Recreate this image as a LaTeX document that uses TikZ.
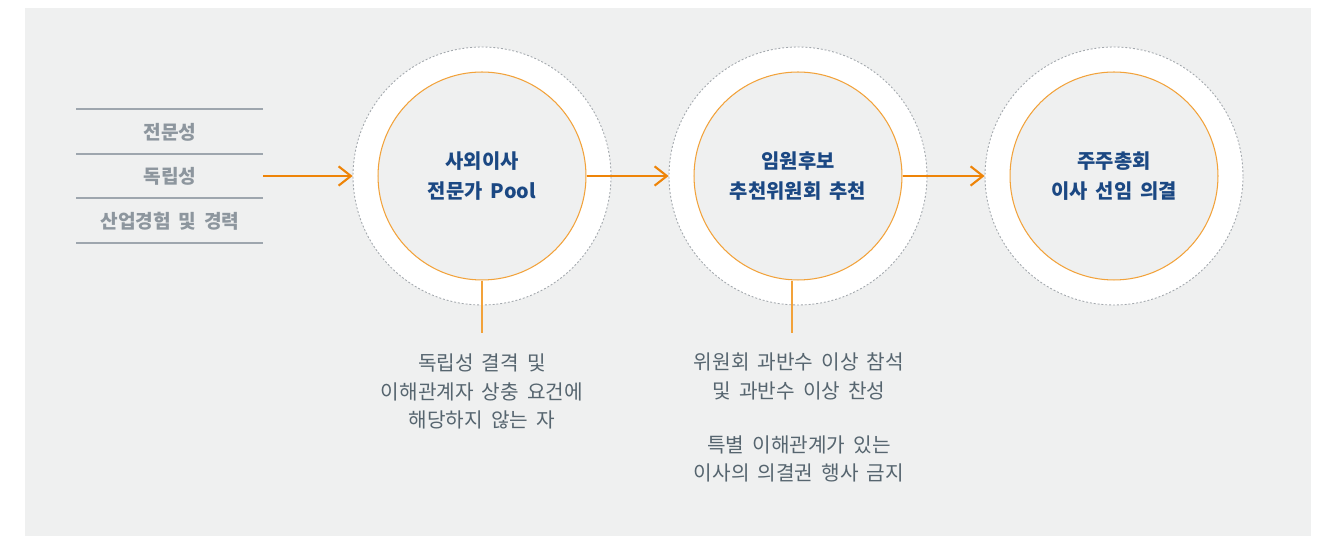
\documentclass[tikz,border=0pt]{standalone}
\usepackage{fontspec}
\setmainfont[WordSpace=1.8]{Noto Sans CJK KR}
\usepackage{tikz}
\usetikzlibrary{arrows.meta, positioning}
\usepackage{xcolor}
\definecolor{panelgrey}{HTML}{EFF0F0}
\definecolor{flowor}{HTML}{EE8408}
\definecolor{ringor}{HTML}{F2A23A}
\definecolor{titleblue}{HTML}{1B4883}
\definecolor{listgrey}{HTML}{8D969E}
\definecolor{rulegrey}{HTML}{9EA6AE}
\definecolor{notegrey}{HTML}{56656F}
\definecolor{dotgrey}{HTML}{A3A8AD}
\tikzset{%
	outer ring/.style={
		circle,
		draw=dotgrey,
		fill=white,
		line width=0.5pt,
		dash pattern=on 1.1pt off 1.1pt,
		minimum size=5.16cm
	},
	inner ring/.style={
		circle,
		draw=ringor,
		fill=panelgrey,
		line width=0.6pt,
		minimum size=4.16cm,
		align=center,
		text=titleblue,
		font=\fontsize{11.3}{17}\selectfont\bfseries
	},
	list item/.style={
		text=listgrey,
		font=\fontsize{10.9}{12}\selectfont\bfseries
	},
	list rule/.style={
		draw=rulegrey,
		line width=0.8pt
	},
	note/.style={
		align=center,
		text=notegrey,
		font=\fontsize{11.5}{16}\selectfont
	},
	flow arrow/.style={
		draw=flowor,
		line width=1.2pt,
		-{Straight Barb[length=7pt,width=11pt,line width=1.2pt]}
	},
	tick line/.style={
		draw=ringor,
		line width=0.8pt
	},
}

\begin{document}
\begin{tikzpicture}[x=0.02cm, y=-0.02cm]
	% Panel
	\useasboundingbox (0,0) rectangle (1326,536);
	\fill[panelgrey] (25,8) rectangle (1311,536);

	% Criteria list
	\draw[list rule] (76,109) -- (263,109);
	\draw[list rule] (76,154) -- (263,154);
	\draw[list rule] (76,198) -- (263,198);
	\draw[list rule] (76,243) -- (263,243);
	\node[list item] (expertise) at (170,132) {전문성};
	\node[list item] (independence) at (170,176) {독립성};
	\node[list item] (career) at (170,221) {산업경험 및 경력};
	\coordinate (listend) at (263,176);

	% Step circles
	\node[outer ring] (ringa) at (482,176) {};
	\node[inner ring] (poola) at (482,176) {사외이사\\전문가 Pool};
	\node[outer ring] (ringb) at (798,176) {};
	\node[inner ring] (poolb) at (798,176) {임원후보\\추천위원회 추천};
	\node[outer ring] (ringc) at (1114,176) {};
	\node[inner ring] (poolc) at (1114,176) {주주총회\\이사 선임 의결};

	% Arrows
	\draw[flow arrow] (listend) -- (ringa.west);
	\draw[flow arrow] (poola.east) -- (ringb.west);
	\draw[flow arrow] (poolb.east) -- (ringc.west);

	% Notes
	\coordinate (ticka) at (482,333);
	\coordinate (tickb) at (792,333);
	\draw[tick line] (poola.south) -- (ticka);
	\draw[tick line] (poolb.south -| tickb) -- (tickb);
	\node[note, anchor=north] (notea) at (482,348) {독립성 결격 및\\이해관계자 상충 요건에\\해당하지 않는 자};
	\node[note, anchor=north] (noteb) at (799,347) {위원회 과반수 이상 참석\\및 과반수 이상 찬성\\[0.52cm]특별 이해관계가 있는\\이사의 의결권 행사 금지};
\end{tikzpicture}
\end{document}
